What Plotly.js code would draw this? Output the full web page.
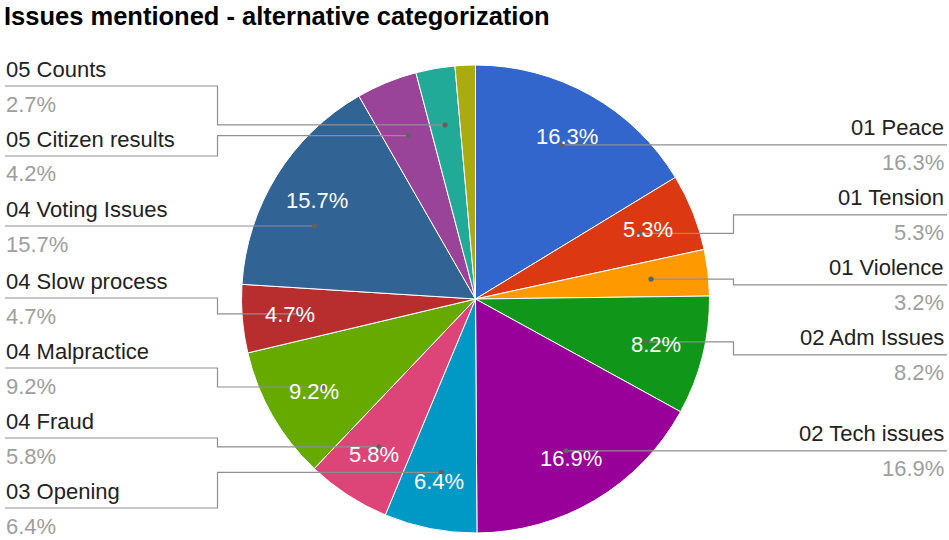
<!DOCTYPE html>
<html><head><meta charset="utf-8">
<script src="https://cdn.plot.ly/plotly-3.0.1.min.js"></script>
<style>html,body{margin:0;padding:0;background:#fff}#chart{width:949px;height:540px}</style>
</head><body><div id="chart"></div>
<script>
// ---- data ----
const categories = ["01 Peace","01 Tension","01 Violence","02 Adm Issues","02 Tech issues","03 Opening","04 Fraud","04 Malpractice","04 Slow process","04 Voting Issues","05 Citizen results","05 Counts",""];
const shares = [16.3,5.3,3.2,8.2,16.9,6.4,5.8,9.2,4.7,15.7,4.2,2.7,1.4];
const chartTitle = "Issues mentioned - alternative categorization";

// ---- styles / layout constants ----
const sliceColors = ["#3366cc","#dc3912","#ff9900","#109618","#990099","#0099c6","#dd4477","#66aa00","#b82e2e","#316395","#994499","#22aa99","#aaaa11"];
const W = 949, H = 540;
const CX = 475.5, CY = 299, R = 234;
const FONT = "'Liberation Sans', Arial, sans-serif";
const LABEL_SIZE = 22;
const DOT_R = 0.755 * R;      // radius of leader dots
const TXT_R = 0.795 * R;      // radius of inside % labels
const GAP = 70;               // min vertical distance between outside labels
const LEFT_X = 5, RIGHT_X = 945;
const ELBOW = 24;

const px = x => x / W;
const py = y => 1 - y / H;

const total = shares.reduce((a, b) => a + b, 0);
const pctText = v => (100 * v / total).toFixed(1) + "%";

// slice geometry (clockwise from 12 o'clock)
let cum = 0;
const slices = shares.map((v, i) => {
  const a0 = cum / total * 360; cum += v;
  const a1 = cum / total * 360;
  return { i, a0, a1, mid: (a0 + a1) / 2, width: a1 - a0 };
});
const rad = d => d * Math.PI / 180;
const pos = (ang, r) => ({ x: CX + r * Math.sin(rad(ang)), y: CY - r * Math.cos(rad(ang)) });

// outside labels: relax positions to avoid overlap
function relax(items, top, bottom) {
  items.sort((a, b) => a.ideal - b.ideal);
  const blocks = [];
  const start = b => {
    const n = b.items.length;
    const mean = b.items.reduce((s, it) => s + it.ideal, 0) / n;
    let s = mean - (n - 1) / 2 * GAP;
    s = Math.max(top, Math.min(s, bottom - (n - 1) * GAP));
    return s;
  };
  for (const it of items) {
    blocks.push({ items: [it] });
    while (blocks.length > 1) {
      const b = blocks[blocks.length - 1], a = blocks[blocks.length - 2];
      const aEnd = start(a) + (a.items.length - 1) * GAP;
      if (start(b) - aEnd < GAP - 1e-6) {
        a.items = a.items.concat(b.items);
        blocks.pop();
      } else break;
    }
  }
  for (const b of blocks) {
    const s = start(b);
    b.items.forEach((it, k) => { it.y = s + k * GAP; });
  }
}

const labelled = slices.filter(s => categories[s.i] !== "");
const right = [], left = [];
labelled.forEach(s => {
  const p = pos(s.mid, DOT_R);
  const item = { s, ideal: p.y };
  (s.mid < 180 ? right : left).push(item);
});
relax(right, 86, 508);
relax(left, 86, 508);

const shapes = [], annotations = [];
const lineColor = "#8f8f8f";

function addLabel(it, side) {
  const s = it.s;
  // dot: straighten leader if reachable close to the slice middle
  let ang = s.mid;
  const c = (CY - it.y) / DOT_R;
  if (Math.abs(c) <= 1) {
    let a = Math.acos(c) * 180 / Math.PI;
    if (side === "left") a = 360 - a;
    if (Math.abs(a - s.mid) <= 0.14 * s.width) ang = a;
  }
  const d = pos(ang, DOT_R);
  const elbowX = side === "left" ? CX - R - ELBOW : CX + R + ELBOW;
  const edgeX = side === "left" ? LEFT_X : RIGHT_X + 2;
  let path;
  if (Math.abs(d.y - it.y) < 0.5) {
    path = `M${px(edgeX)},${py(it.y)} L${px(d.x)},${py(it.y)}`;
  } else {
    path = `M${px(edgeX)},${py(it.y)} L${px(elbowX)},${py(it.y)} L${px(elbowX)},${py(d.y)} L${px(d.x)},${py(d.y)}`;
  }
  shapes.push({ type: "path", xref: "paper", yref: "paper", path, line: { color: lineColor, width: 1.2 } });
  shapes.push({ type: "circle", xref: "paper", yref: "paper", x0: px(d.x - 2.6), x1: px(d.x + 2.6), y0: py(d.y + 2.6), y1: py(d.y - 2.6), fillcolor: "#616161", line: { width: 0 } });
  const tx = side === "left" ? px(LEFT_X) : px(RIGHT_X);
  const xa = side === "left" ? "left" : "right";
  annotations.push({ xref: "paper", yref: "paper", x: tx, y: py(it.y - 17), xanchor: xa, yanchor: "middle", showarrow: false, borderpad: 0, text: categories[s.i], font: { family: FONT, size: LABEL_SIZE, color: "#222222" } });
  annotations.push({ xref: "paper", yref: "paper", x: tx, y: py(it.y + 18), xanchor: xa, yanchor: "middle", showarrow: false, borderpad: 0, text: pctText(shares[s.i]), font: { family: FONT, size: LABEL_SIZE, color: "#9e9e9e" } });
}
right.forEach(it => addLabel(it, "right"));
left.forEach(it => addLabel(it, "left"));

// inside percentage labels for the larger slices
slices.forEach(s => {
  if (100 * shares[s.i] / total < 4.5) return;
  const p = pos(s.mid, TXT_R);
  annotations.push({ xref: "paper", yref: "paper", x: px(p.x), y: py(p.y), xanchor: "center", yanchor: "middle", showarrow: false, borderpad: 0, text: pctText(shares[s.i]), font: { family: FONT, size: LABEL_SIZE, color: "#ffffff" } });
});

const trace = {
  type: "pie",
  labels: categories.map((c, i) => c === "" ? " " : c),
  values: shares,
  sort: false,
  direction: "clockwise",
  rotation: 0,
  textinfo: "none",
  hoverinfo: "label+percent",
  marker: { colors: sliceColors, line: { color: "#ffffff", width: 1 } },
  domain: { x: [px(CX - R), px(CX + R)], y: [py(CY + R), py(CY - R)] },
  showlegend: false
};

const layout = {
  width: W, height: H,
  margin: { l: 0, r: 0, t: 0, b: 0 },
  paper_bgcolor: "#ffffff",
  showlegend: false,
  title: { text: chartTitle, x: px(4), xanchor: "left", xref: "container", y: py(16), yanchor: "middle", yref: "container", font: { family: FONT, size: 25.5, color: "#000000", weight: "bold" } },
  shapes, annotations
};

Plotly.newPlot("chart", [trace], layout, { displayModeBar: false, staticPlot: true });
</script>
</body></html>
